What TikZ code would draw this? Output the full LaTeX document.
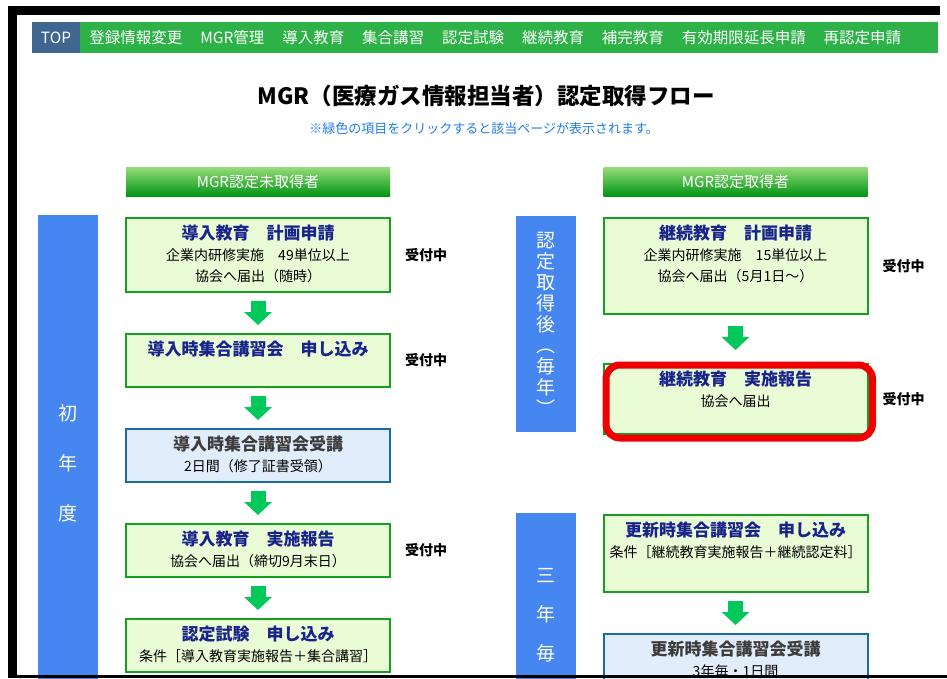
\documentclass[tikz,border=0pt]{standalone}
\usepackage{fontspec}
\setmainfont{Noto Sans CJK JP}
\usetikzlibrary{arrows.meta,positioning,calc}
\definecolor{navgreen}{RGB}{44,178,70}
\definecolor{navtop}{RGB}{63,102,142}
\definecolor{noteblue}{RGB}{30,125,235}
\definecolor{hdrtop}{RGB}{150,220,120}
\definecolor{hdrbot}{RGB}{0,150,20}
\definecolor{barblue}{RGB}{70,134,240}
\definecolor{boxgreen}{RGB}{20,160,30}
\definecolor{boxfill}{RGB}{234,252,214}
\definecolor{boxblue}{RGB}{25,105,165}
\definecolor{boxblfill}{RGB}{225,237,250}
\definecolor{navytext}{RGB}{25,35,140}
\definecolor{graytext}{RGB}{60,60,60}
\definecolor{arrowgreen}{RGB}{0,200,90}
\definecolor{hlred}{RGB}{240,0,0}
% box contents: fixed height, lines from the top
\newcommand{\boxtxt}[2]{\parbox[t][#1][t]{264pt}{\offinterlineskip\centering #2}}
\newcommand{\tline}[1]{\rule[-4pt]{0pt}{25pt}{\fontsize{17}{17}\bfseries\color{navytext}#1}\par}
\newcommand{\btline}[1]{\rule[-4pt]{0pt}{25pt}{\fontsize{17}{17}\bfseries\color{graytext}#1}\par}
\newcommand{\sline}[1]{\rule[-4pt]{0pt}{21pt}{\fontsize{14}{14}\selectfont #1}\par}

\begin{document}
\begin{tikzpicture}[x=1pt,y=-1pt, node distance=40pt,
  navitem/.style={text=white, font=\fontsize{15.5}{15.5}\selectfont, inner sep=0pt},
  hdr/.style={top color=hdrtop, bottom color=hdrbot, text=white, minimum width=264pt,
              minimum height=29pt, inner sep=0pt, font=\fontsize{15}{15}\selectfont},
  gbox/.style={draw=boxgreen, line width=2pt, fill=boxfill, inner sep=0pt, anchor=north},
  bbox/.style={draw=boxblue, line width=2pt, fill=boxblfill, inner sep=0pt, anchor=north},
  bar/.style={fill=barblue, minimum width=60pt, inner sep=0pt, text=white, align=center},
  status/.style={font=\fontsize{14}{14}\bfseries, inner sep=0pt},
  garrow/.style={draw=arrowgreen, line width=15pt, -{Triangle[width=27pt,length=13pt]}},
  hl/.style={draw=hlred, line width=7pt, rounded corners=14pt}]
\useasboundingbox[fill=white] (0,0) rectangle (947,678);

% menu bar
\fill[navgreen] (32,22) rectangle (938,53);
\node[fill=navtop, minimum width=48pt, minimum height=31pt, inner sep=0pt,
      text=white, font=\fontsize{15.5}{15.5}\selectfont] (nTop) at (56,37.5) {TOP};
\node[navitem, right=9pt of nTop] (nReg) {登録情報変更};
\node[navitem, right=17.5pt of nReg] (nMgr) {MGR管理};
\node[navitem, right=17.5pt of nMgr] (nIntro) {導入教育};
\node[navitem, right=17.5pt of nIntro] (nGroup) {集合講習};
\node[navitem, right=17.5pt of nGroup] (nExam) {認定試験};
\node[navitem, right=17.5pt of nExam] (nCont) {継続教育};
\node[navitem, right=17.5pt of nCont] (nSupp) {補完教育};
\node[navitem, right=17.5pt of nSupp] (nExt) {有効期限延長申請};
\node[navitem, right=17.5pt of nExt] (nRe) {再認定申請};

% heading
\node[inner sep=0pt, font=\fontsize{22.5}{22.5}\bfseries] (ttl) at (486,96)
  {MGR（医療ガス情報担当者）認定取得フロー};
\node[inner sep=0pt, text=noteblue, font=\fontsize{13}{13}\selectfont] (note) at (484,129)
  {※緑色の項目をクリックすると該当ページが表示されます。};

\node[hdr] (hdrL) at (258,181.5) {MGR認定未取得者};
\node[hdr] (hdrR) at (735.5,181.5) {MGR認定取得者};

% side bars
\node[bar, minimum height=496pt, font=\fontsize{19}{50}\selectfont] (yr1) at (68,463) {初\\年\\度};
\node[bar, minimum height=216pt, font=\fontsize{19}{21}\selectfont] (yrA) at (545.5,324)
  {認\\定\\取\\得\\後\\︵\\毎\\年\\︶};
\node[bar, minimum height=204pt, font=\fontsize{19}{39}\selectfont] (yr3) at (545.5,615) {三\\年\\毎};

% left column
\node[gbox] (l1) at (258,217) {\boxtxt{74pt}{\tline{導入教育　計画申請}\sline{企業内研修実施　49単位以上}\sline{協会へ届出（随時）}}};
\node[gbox, below=of l1] (l2) {\boxtxt{53pt}{\tline{導入時集合講習会　申し込み}}};
\node[bbox, below=of l2] (l3) {\boxtxt{53pt}{\btline{導入時集合講習会受講}\sline{2日間（修了証書受領）}}};
\node[gbox, below=of l3] (l4) {\boxtxt{53pt}{\tline{導入教育　実施報告}\sline{協会へ届出（締切9月末日）}}};
\node[gbox, below=of l4] (l5) {\boxtxt{53pt}{\tline{認定試験　申し込み}\sline{条件［導入教育実施報告＋集合講習］}}};
\coordinate[below=of l5.south] (l5next);

\node[status, right=14pt of l1] (st1) {受付中};
\node[status, right=14pt of l2] (st2) {受付中};
\node[status, right=14pt of l4] (st4) {受付中};

\draw[garrow] ([yshift=-8pt]l1.south) -- ([yshift=8pt]l2.north);
\draw[garrow] ([yshift=-8pt]l2.south) -- ([yshift=8pt]l3.north);
\draw[garrow] ([yshift=-8pt]l3.south) -- ([yshift=8pt]l4.north);
\draw[garrow] ([yshift=-8pt]l4.south) -- ([yshift=8pt]l5.north);
\draw[garrow] ([yshift=-9pt]l5.south) -- ([yshift=8pt]l5next);

% right column
\node[gbox] (r1) at (735.5,217) {\boxtxt{96pt}{\tline{継続教育　計画申請}\sline{企業内研修実施　15単位以上}\sline{協会へ届出（5月1日〜）}}};
\node[gbox, below=48pt of r1] (r2) {\boxtxt{70pt}{\tline{継続教育　実施報告}\sline{協会へ届出}}};
\node[gbox] (r3) at (735.5,514) {\boxtxt{77pt}{\tline{更新時集合講習会　申し込み}\sline{条件［継続教育実施報告＋継続認定料］}}};
\node[bbox, below=of r3] (r4) {\boxtxt{60pt}{\btline{更新時集合講習会受講}\sline{3年毎・1日間}}};

\node[status, right=14pt of r1] (st6) {受付中};
\node[status, right=14pt of r2] (st7) {受付中};

\draw[garrow] ([yshift=-11pt]r1.south) -- ([yshift=13pt]r2.north);
\draw[garrow] ([yshift=-8pt]r3.south) -- ([yshift=8pt]r4.north);

\draw[hl] ([shift={(3.5pt,-2pt)}]r2.north west) rectangle ([shift={(4pt,-3pt)}]r2.south east);

% screen frame
\fill[black] (8,6) rectangle (940,15);
\fill[black] (8,6) rectangle (17,678);
\fill[black] (8,675) rectangle (947,678);
\end{tikzpicture}
\end{document}
